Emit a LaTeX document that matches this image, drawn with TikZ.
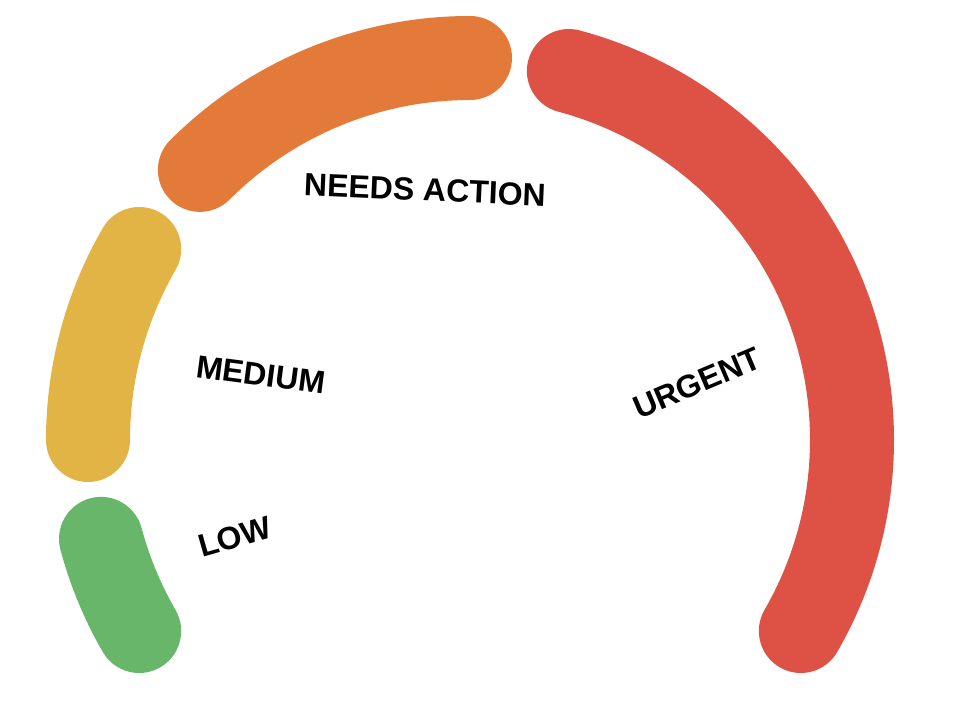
\documentclass[tikz,border=0pt]{standalone}
\usepackage{fontspec}
\setmainfont{Liberation Sans}
\definecolor{cgreen}{RGB}{103,182,106}
\definecolor{cyellow}{RGB}{226,180,69}
\definecolor{corange}{RGB}{228,122,58}
\definecolor{cred}{RGB}{221,82,68}
\tikzset{
  band/.style={line width=84pt, line cap=round},
  lbl/.style={font=\fontsize{32}{38}\selectfont\bfseries, inner sep=0pt}
}
\begin{document}
\begin{tikzpicture}[x=1pt,y=1pt]
\useasboundingbox (0,0) rectangle (960,720);
\coordinate (c) at (470,280);
\draw[band, cgreen] (c) ++(195:382) arc[start angle=195, end angle=210, radius=382];
\draw[band, cyellow] (c) ++(150:382) arc[start angle=150, end angle=180, radius=382];
\draw[band, corange] (c) ++(90:382) arc[start angle=90, end angle=135, radius=382];
\draw[band, cred] (c) ++(75:382) arc[start angle=75, end angle=-30, radius=382];
\node[lbl, rotate=-2.5] (needs) at (425,530) {NEEDS ACTION};
\node[lbl, rotate=-7.5] (medium) at (261,345) {MEDIUM};
\node[lbl, rotate=16] (low) at (235,183) {LOW};
\node[lbl, rotate=23] (urgent) at (697,337) {URGENT};
\end{tikzpicture}
\end{document}
